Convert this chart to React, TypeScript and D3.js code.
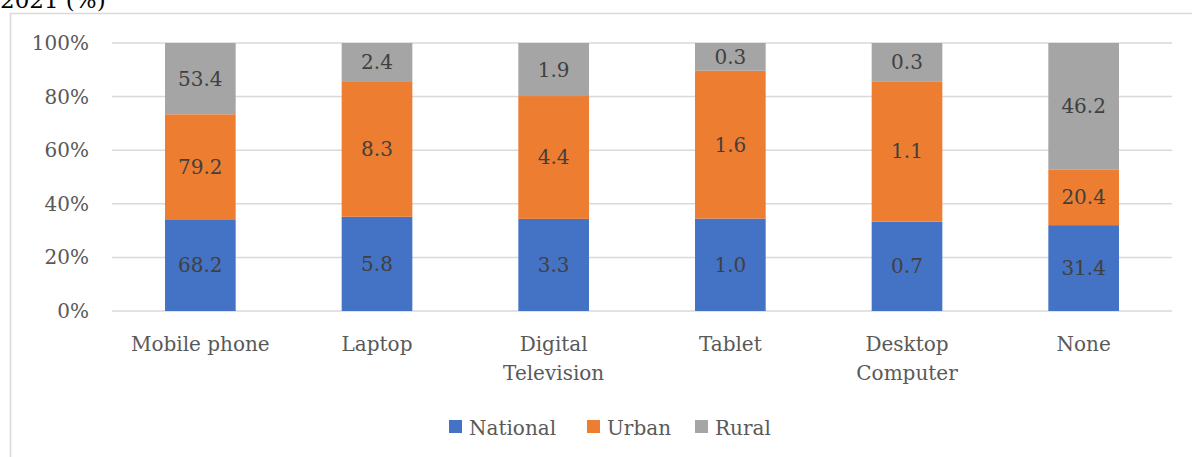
import { useRef, useEffect } from 'react';
import * as d3 from 'd3';

const categories = ['Mobile phone', 'Laptop', 'Digital\nTelevision', 'Tablet', 'Desktop\nComputer', 'None'];
const seriesNames = ['National', 'Urban', 'Rural'];
const national = [68.2, 5.8, 3.3, 1.0, 0.7, 31.4];
const urban = [79.2, 8.3, 4.4, 1.6, 1.1, 20.4];
const rural = [53.4, 2.4, 1.9, 0.3, 0.3, 46.2];
const yTicks = [0, 0.2, 0.4, 0.6, 0.8, 1];
const colors = ['#4472C4', '#ED7D31', '#A5A5A5'];

const FONT = '"DejaVu Serif", Georgia, serif';

export default function App() {
  const svgRef = useRef<SVGSVGElement>(null);

  useEffect(() => {
    const W = 1192, H = 457;
    const margin = { top: 43, right: 20, bottom: 146, left: 112 };
    const width = W - margin.left - margin.right;
    const height = H - margin.top - margin.bottom;

    const rows = categories.map((c, i) => ({
      cat: c, National: national[i], Urban: urban[i], Rural: rural[i]
    }));

    const root = d3.select(svgRef.current)
      .html('')
      .attr('width', W)
      .attr('height', H)
      .style('font-family', FONT);

    // рамка области диаграммы
    root.append('rect')
      .attr('x', 10.5).attr('y', 13.5)
      .attr('width', W + 20).attr('height', H + 20)
      .attr('fill', 'none').attr('stroke', '#d9d9d9').attr('stroke-width', 1.5);

    // заголовок обрезан сверху, как на оригинале
    root.append('text')
      .attr('x', 0).attr('y', 8)
      .attr('font-size', 23).attr('fill', '#000')
      .text('2021 (%)');

    const svg = root.append('g').attr('transform', `translate(${margin.left},${margin.top})`);

    const x = d3.scaleBand().domain(categories).range([0, width]).paddingInner(0.6).paddingOuter(0.3);
    const y = d3.scaleLinear().domain([0, 1]).range([height, 0]);

    // сетка
    svg.selectAll('.grid').data(yTicks).enter().append('line')
      .attr('x1', 0).attr('x2', width)
      .attr('y1', d => y(d)).attr('y2', d => y(d))
      .attr('stroke', '#d9d9d9').attr('stroke-width', 1.5);

    svg.selectAll('.ytick').data(yTicks).enter().append('text')
      .attr('x', -23).attr('y', d => y(d)).attr('dy', '0.35em')
      .attr('text-anchor', 'end').attr('font-size', 20).attr('fill', '#595959')
      .text(d => `${Math.round(d * 100)}%`);

    const stack = d3.stack<any>().keys(seriesNames).offset(d3.stackOffsetExpand);
    const layers = stack(rows);

    const g = svg.selectAll('.layer').data(layers).enter().append('g')
      .attr('fill', (_, i) => colors[i]);

    g.selectAll('rect').data(d => d).enter().append('rect')
      .attr('x', d => x(d.data.cat)!)
      .attr('width', x.bandwidth())
      .attr('y', d => y(d[1]))
      .attr('height', d => y(d[0]) - y(d[1]));

    layers.forEach(layer => {
      svg.selectAll(null).data(layer).enter().append('text')
        .attr('x', d => x(d.data.cat)! + x.bandwidth() / 2)
        .attr('y', d => (y(d[0]) + y(d[1])) / 2)
        .attr('dy', '0.35em')
        .attr('text-anchor', 'middle')
        .attr('font-size', 20).attr('fill', '#404040')
        .text(d => (d.data as any)[layer.key].toFixed(1));
    });

    // подписи категорий
    const cl = svg.selectAll('.cat').data(categories).enter().append('text')
      .attr('x', d => x(d)! + x.bandwidth() / 2)
      .attr('y', height + 40)
      .attr('text-anchor', 'middle').attr('font-size', 20).attr('fill', '#595959');
    cl.each(function (d) {
      d.split('\n').forEach((line, i) => {
        d3.select(this).append('tspan')
          .attr('x', x(d)! + x.bandwidth() / 2)
          .attr('dy', i === 0 ? 0 : 29)
          .text(line);
      });
    });

    // легенда
    const legendX = [449, 587, 695];
    const legend = root.append('g');
    seriesNames.forEach((s, i) => {
      legend.append('rect')
        .attr('x', legendX[i]).attr('y', 420).attr('width', 13).attr('height', 13)
        .attr('fill', colors[i]);
      legend.append('text')
        .attr('x', legendX[i] + 20).attr('y', 435)
        .attr('font-size', 20).attr('fill', '#595959')
        .text(s);
    });
  }, []);

  return <svg ref={svgRef} style={{ position: 'absolute', left: 0, top: 0 }} />;
}
